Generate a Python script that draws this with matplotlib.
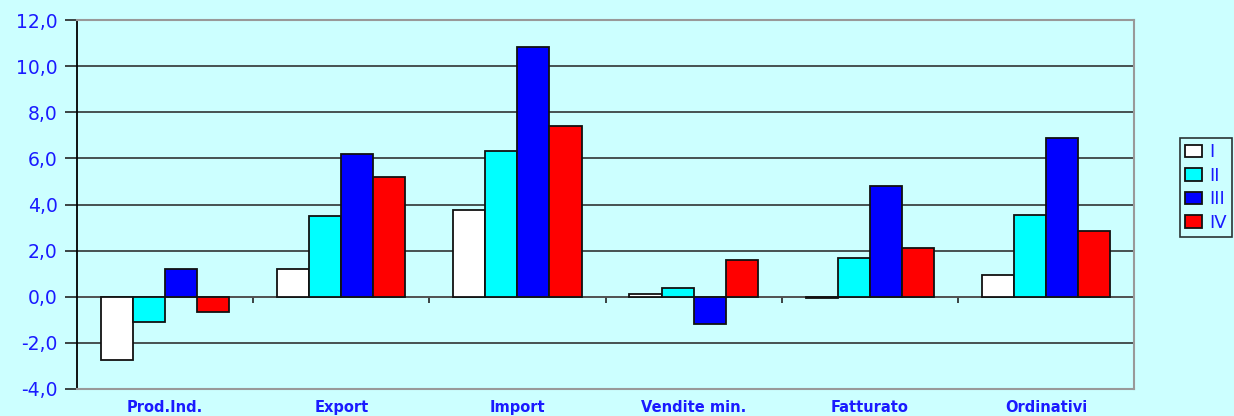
import matplotlib
matplotlib.use("Agg")
import matplotlib.pyplot as plt
import numpy as np
from matplotlib.ticker import FuncFormatter, FixedLocator

categories = ["Prod.Ind.", "Export", "Import", "Vendite min.", "Fatturato", "Ordinativi"]
series_names = ["I", "II", "III", "IV"]
s_I = [-2.75, 1.2, 3.75, 0.1, -0.05, 0.95]
s_II = [-1.1, 3.5, 6.3, 0.4, 1.7, 3.55]
s_III = [1.2, 6.2, 10.85, -1.2, 4.8, 6.9]
s_IV = [-0.65, 5.2, 7.4, 1.6, 2.1, 2.85]
series = [s_I, s_II, s_III, s_IV]
colors = ["#FFFFFF", "#00FFFF", "#0000FF", "#FF0000"]
yticks = [-4, -2, 0, 2, 4, 6, 8, 10, 12]

bg = "#CCFFFF"
txt = "#1a1aff"

fig = plt.figure(figsize=(12.34, 4.16), dpi=100, facecolor=bg)
ax = fig.add_axes([77/1234, 27/416, (1134-77)/1234, (389-20)/416], facecolor=bg)

x = np.arange(len(categories))
w = 0.182
for i, (vals, c, name) in enumerate(zip(series, colors, series_names)):
    ax.bar(x + (i - 1.5) * w, vals, width=w, color=c, edgecolor="#111111",
           linewidth=1.3, label=name, zorder=3)

ax.set_xlim(-0.5, len(categories) - 0.5)
ax.set_ylim(-4, 12)
ax.yaxis.set_major_locator(FixedLocator(yticks))
ax.yaxis.set_major_formatter(FuncFormatter(lambda v, p: f"{v:.1f}".replace(".", ",")))
ax.grid(axis="y", color="#222222", linewidth=1.1, zorder=0)
ax.axhline(0, color="#555555", linewidth=1.3, zorder=2)

for s in ["top", "right", "bottom"]:
    ax.spines[s].set_color("#999999")
    ax.spines[s].set_linewidth(1.5)
ax.spines["left"].set_color("black")
ax.spines["left"].set_linewidth(1.3)

ax.tick_params(axis="y", direction="out", length=9, width=1.2, color="#222222",
               labelsize=13.5, labelcolor=txt, pad=5)
ax.set_xticks(x)
ax.set_xticklabels(categories, fontweight="bold", fontsize=10.5, color=txt)
ax.tick_params(axis="x", length=0, pad=8)

sec = ax.secondary_xaxis(0.25)
sec.set_xticks(np.arange(len(categories)) + 0.5)
sec.set_xticklabels([])
sec.tick_params(axis="x", direction="out", length=4, width=1.2, color="#222222")
sec.spines["bottom"].set_visible(False)

leg = fig.legend(loc="upper left", bbox_to_anchor=(1180/1234, 1 - 138/416),
                 fontsize=13, frameon=True, fancybox=False, edgecolor="black",
                 facecolor=bg, handlelength=0.9, handleheight=0.7,
                 handletextpad=0.4, borderpad=0.3, labelspacing=0.3,
                 borderaxespad=0)
for t in leg.get_texts():
    t.set_color(txt)
leg.get_frame().set_linewidth(1.2)

fig.savefig("out.png", dpi=100, facecolor=bg)
